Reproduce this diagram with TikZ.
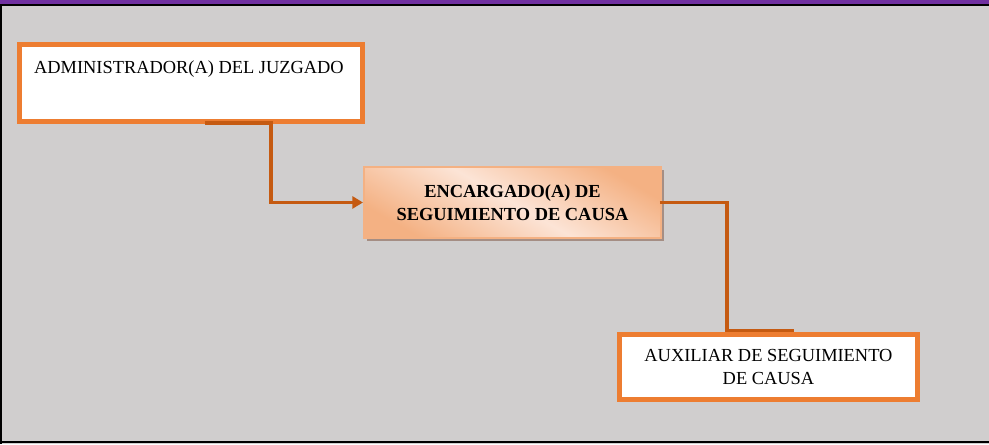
\documentclass[tikz,border=0pt]{standalone}
\usepackage{fontspec}
\setmainfont{Liberation Serif}
\usetikzlibrary{positioning,arrows.meta,shadows}

\definecolor{paper}{RGB}{208,206,206}
\definecolor{bandpurple}{RGB}{112,48,160}
\definecolor{boxorange}{RGB}{237,125,49}
\definecolor{linkorange}{RGB}{197,90,17}
\definecolor{peachdark}{RGB}{244,177,131}
\definecolor{peachlight}{RGB}{252,228,214}
\definecolor{shadowgray}{RGB}{165,142,132}

\tikzset{
  unitbox/.style = {draw=boxorange, line width=3.75pt, fill=white,
    font=\fontsize{13.8}{17.5}\selectfont, align=center},
  headbox/.style = {draw=peachdark, line width=1.2pt,
    top color=peachdark, bottom color=peachdark, middle color=peachlight,
    shading angle=-30,
    drop shadow={shadow xshift=2.25pt, shadow yshift=-2.25pt, fill=shadowgray, opacity=1},
    font=\fontsize{13.8}{17.5}\selectfont\bfseries, align=center,
    minimum width=223pt, minimum height=53.5pt},
  link/.style = {draw=linkorange, line width=2.6pt}
}

\begin{document}
\begin{tikzpicture}[x=0.75pt, y=-0.75pt]
		\useasboundingbox (0,0) rectangle (989,444);
		\fill[paper] (0,0) rectangle (989,444);
		\fill[bandpurple] (0,0) rectangle (989,4);
		\fill[black] (0,4) rectangle (989,6);
		\fill[black] (0,6) rectangle (1.5,444);
		\fill[black] (0,441) rectangle (989,443);
		\node (a) [unitbox, minimum width = 257pt, minimum height = 57.75pt] at (191,83) {};
		\node (atxt) [anchor = north west, inner sep = 0pt, font = \fontsize{13.8}{17.5}\selectfont] at ([xshift = 12.5pt, yshift = -13.5pt]a.north west) {ADMINISTRADOR(A) DEL JUZGADO};
		\node (b) [headbox, on grid, below right = 89.6pt and 241.1pt of a] {ENCARGADO(A) DE\\SEGUIMIENTO DE CAUSA};
		\node (c) [unitbox, on grid, below right = 123.4pt and 192pt of b, minimum width = 223.5pt, minimum height = 48.75pt] {AUXILIAR DE SEGUIMIENTO\\DE CAUSA};
		\coordinate (a1) at ([xshift = 10.5pt, yshift = 0.8pt]a.south);
		\coordinate (a2) at ([xshift = 60pt, yshift = 0.8pt]a.south);
		\coordinate (c1) at ([xshift = -31pt, yshift = 1pt]c.north);
		\coordinate (c2) at ([xshift = 19.5pt, yshift = 1pt]c.north);
		\path[link, -{Triangle[length = 8pt, width = 9pt]}] (a1) -- (a2) |- (b.west);
		\path[link] ([xshift = -1.5pt]b.east) -| (c1) -- (c2);
		
		
		\end{tikzpicture}
\end{document}
